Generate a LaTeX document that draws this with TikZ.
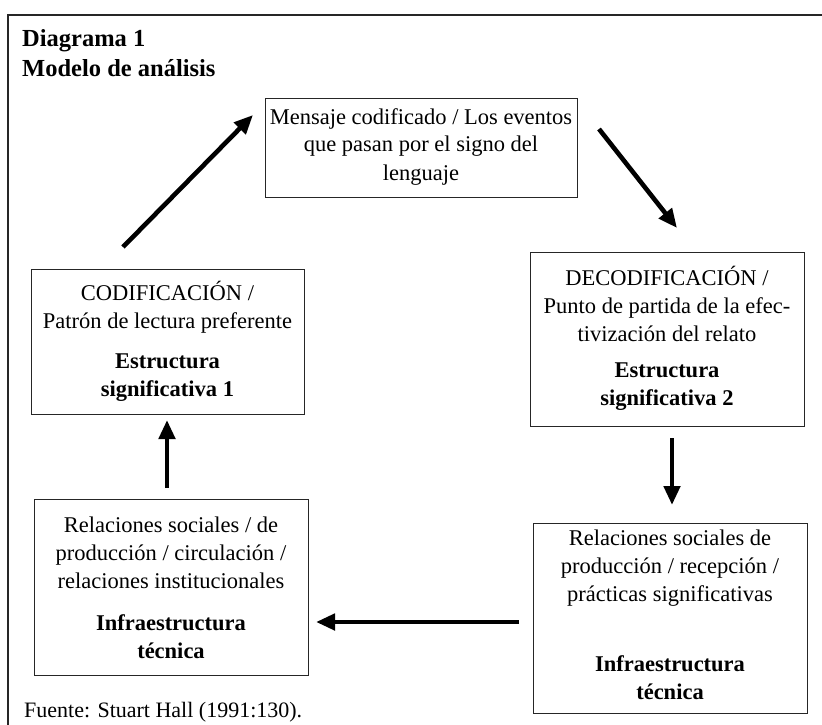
\documentclass[tikz,border=0pt]{standalone}
\usepackage{fontspec}
\setmainfont{Liberation Serif}
\usetikzlibrary{arrows.meta}
\tikzset{
  box/.style={draw=black!85, line width=1pt, rectangle, inner sep=0pt},
  txt/.style={inner sep=0pt, anchor=base, font=\fontsize{22.5}{28}\selectfont},
  flow/.style={line width=4.6pt, -{Triangle[length=19pt,width=16pt]}},
  frame/.style={draw=black!85, line width=1.3pt}
}
\newcommand{\blk}[1]{\setlength{\tabcolsep}{0pt}\begin{tabular}[t]{c}#1\end{tabular}}
\begin{document}
\begin{tikzpicture}[x=1pt,y=-1pt]
\useasboundingbox (0,0) rectangle (822,725);
\draw[frame] (822,15) -- (8,15) -- (8,725);

% title
\node[inner sep=0pt, anchor=base west, font=\bfseries\fontsize{24.5}{30}\selectfont] (title) at (22,47)
  {\setlength{\tabcolsep}{0pt}\begin{tabular}[t]{l}Diagrama 1\\Modelo de análisis\end{tabular}};

% boxes
\node[box, minimum width=312pt, minimum height=99pt] (top) at (421,147.5) {};
\node[box, minimum width=273pt, minimum height=145pt] (cod) at (167.5,341.5) {};
\node[box, minimum width=274pt, minimum height=174pt] (dec) at (667,339) {};
\node[box, minimum width=274pt, minimum height=176pt] (bl) at (171,587) {};
\node[box, minimum width=274pt, minimum height=190pt] (br) at (670,618) {};

% texts
\node[txt] (toptxt) at (421,124) {\blk{Mensaje codificado / Los eventos\\que pasan por el signo del\\lenguaje}};
\node[txt] (codtxt) at (167.5,300) {\blk{CODIFICACIÓN /\\Patrón de lectura preferente\\[12pt]\textbf{Estructura}\\\textbf{significativa 1}}};
\node[txt] (dectxt) at (667,285) {\blk{DECODIFICACIÓN /\\Punto de partida de la efec-\\tivización del relato\\[8pt]\textbf{Estructura}\\\textbf{significativa 2}}};
\node[txt] (bltxt) at (171,532) {\blk{Relaciones sociales / de\\producción / circulación /\\relaciones institucionales\\[14pt]\textbf{Infraestructura}\\\textbf{técnica}}};
\node[txt] (brtxt) at (670,545) {\blk{Relaciones sociales de\\producción / recepción /\\prácticas significativas\\[42pt]\textbf{Infraestructura}\\\textbf{técnica}}};

% footer
\node[inner sep=0pt, anchor=base west, font=\fontsize{22}{26}\selectfont] (src) at (24,717) {Fuente: Stuart Hall (1991:130).};

% arrow ends
\coordinate (a1s) at (123,247); \coordinate (a1e) at (253,115);
\coordinate (a2s) at (599,129); \coordinate (a2e) at (677,228);
\coordinate (a3s) at (672,438); \coordinate (a3e) at (672,505);
\coordinate (a4s) at (519,622); \coordinate (a4e) at (316,622);
\coordinate (a5s) at (167,488); \coordinate (a5e) at (167,420);

\draw[flow] (a1s) -- (a1e);
\draw[flow] (a2s) -- (a2e);
\draw[flow] (a3s) -- (a3e);
\draw[flow] (a4s) -- (a4e);
\draw[flow] (a5s) -- (a5e);
\end{tikzpicture}
\end{document}
